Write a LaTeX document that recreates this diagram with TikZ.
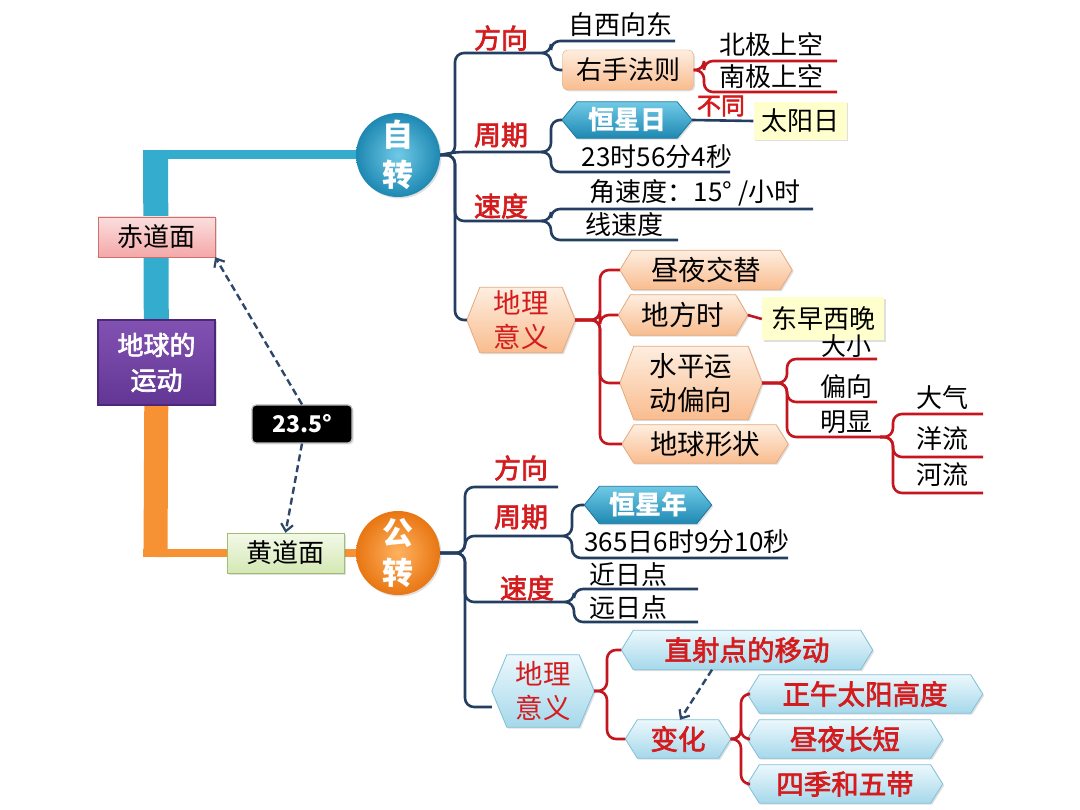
\documentclass[tikz,border=0pt]{standalone}
\usepackage{fontspec}
\newfontfamily\cjk{Noto Sans CJK SC}
\newfontfamily\cjkm[FakeBold=2.5]{Noto Sans CJK SC}
\usetikzlibrary{arrows.meta,shadows,calc}
\pgfdeclarelayer{bg}
\pgfsetlayers{bg,main}
\definecolor{navy}{RGB}{36,62,98}
\definecolor{myred}{RGB}{196,22,30}
\definecolor{txtred}{RGB}{212,28,30}
\definecolor{cyanbar}{RGB}{52,172,206}
\definecolor{orgbar}{RGB}{247,146,52}
\definecolor{peachT}{RGB}{254,238,224}
\definecolor{peachB}{RGB}{249,188,142}
\definecolor{peachD}{RGB}{228,170,126}
\definecolor{ltblT}{RGB}{236,248,252}
\definecolor{ltblB}{RGB}{165,216,235}
\definecolor{ltblD}{RGB}{128,192,215}
\definecolor{blT}{RGB}{112,202,230}
\definecolor{blB}{RGB}{30,136,178}
\definecolor{blD}{RGB}{30,118,158}
\definecolor{yel}{RGB}{255,255,206}
\definecolor{pinkT}{RGB}{251,222,222}
\definecolor{pinkB}{RGB}{244,168,168}
\definecolor{pinkD}{RGB}{206,112,112}
\definecolor{grnT}{RGB}{243,249,232}
\definecolor{grnB}{RGB}{212,232,180}
\definecolor{grnD}{RGB}{160,190,112}
\definecolor{purpT}{RGB}{130,82,178}
\definecolor{purpB}{RGB}{98,54,148}
\definecolor{purpD}{RGB}{78,40,120}
\definecolor{dsh}{RGB}{48,70,104}
\newcommand\brch[4]{\draw[#1] (#2) -- (#2 -| #3) -- (#3 |- #4) -- (#4);}
\newcommand\hexbg[3]{\begin{pgfonlayer}{bg}\path[#3] (#1.west) -- ([xshift=#2]#1.north west) -- ([xshift=-#2]#1.north east) -- (#1.east) -- ([xshift=-#2]#1.south east) -- ([xshift=#2]#1.south west) -- cycle;\end{pgfonlayer}}
\tikzset{
  tx/.style={font=\cjk\fontsize{26}{30}\selectfont, inner sep=0pt, text=black},
  rl/.style={font=\cjkm\fontsize{27}{30}\selectfont, inner sep=0pt, text=txtred},
  hx/.style={inner sep=0pt, font=\cjk\fontsize{27.5}{34}\selectfont, align=center},
  hxr/.style={hx, text=txtred, font=\cjkm\fontsize{27.5}{30}\selectfont},
  navyln/.style={draw=navy, line width=2.6pt, rounded corners=9pt},
  redln/.style={draw=myred, line width=2.6pt, rounded corners=9pt},
  shd/.style={drop shadow={shadow xshift=1.5pt, shadow yshift=-1.5pt, opacity=0.25}},
  peachhex/.style={top color=peachT, bottom color=peachB, draw=peachD, line width=0.8pt, shd},
  ltblhex/.style={top color=ltblT, bottom color=ltblB, draw=ltblD, line width=0.8pt, shd},
  blhex/.style={top color=blT, bottom color=blB, draw=blD, line width=0.8pt, shd},
  ball/.style={circle, minimum size=84pt, inner sep=0pt, align=center, text=white,
    font=\cjk\bfseries\fontsize{31}{40}\selectfont, shd},
  ybox/.style={fill=yel, inner sep=0pt, shd, font=\cjk\fontsize{26}{30}\selectfont},
  dasharrow/.style={draw=dsh, line width=2.4pt, dash pattern=on 7pt off 4pt,
    -{Straight Barb[length=7pt,width=12pt,line width=2.2pt]}},
}
\begin{document}
\begin{tikzpicture}[x=1pt,y=-1pt]
\useasboundingbox (0,0) rectangle (1080,810);
\begin{pgfonlayer}{bg}\fill[white] (0,0) rectangle (1080,810);\end{pgfonlayer}

% ---------- left part ----------
\node[draw=pinkD, top color=pinkT, bottom color=pinkB, minimum width=117pt, minimum height=40pt,
  inner sep=0pt, font=\cjk\fontsize{26}{30}\selectfont, shd] (chi) at (156.5,237) {赤道面};
\node[draw=purpD, line width=1.2pt, top color=purpT, bottom color=purpB, minimum width=117pt,
  minimum height=85pt, inner sep=0pt, align=center, text=white,
  font=\cjkm\fontsize{26}{35}\selectfont, shd] (earth) at (156.5,362.5) {地球的\\运动};
\node[fill=black, draw=black!25, line width=1.2pt, rounded corners=4pt, minimum width=100pt,
  minimum height=38pt, inner sep=0pt, text=white, font=\cjk\bfseries\fontsize{23}{26}\selectfont, shd]
  (deg) at (302,424) {23.5°};
\node[draw=grnD, top color=grnT, bottom color=grnB, minimum width=117pt, minimum height=40pt,
  inner sep=0pt, font=\cjk\fontsize{26}{30}\selectfont, shd] (huang) at (285.5,553) {黄道面};
\node[ball, inner color=blT, outer color=blB] (zi) at (398,155) {自\\转};
\node[ball, inner color={rgb,255:red,255;green,178;blue,96}, outer color={rgb,255:red,232;green,118;blue,18}]
  (gong) at (398,553) {公\\转};

\coordinate (cTop) at (155.5,150.5);
\coordinate (cL) at (143,155);
\coordinate (oBot) at (155.5,557);
\coordinate (oL) at (143,553);
\begin{pgfonlayer}{bg}
\draw[line width=25pt, cyanbar] (earth.center) -- (cTop);
\draw[line width=9pt, cyanbar] (cL) -- (zi.center);
\draw[line width=24pt, orgbar] (earth.center) -- (oBot);
\draw[line width=8pt, orgbar] (oL) -- (gong.center);
\end{pgfonlayer}

\draw[dasharrow] (deg.north) -- (chi.south east);
\draw[dasharrow] (deg.south) -- (huang.north);

% ---------- rotation (自转) ----------
\coordinate (zk) at (455,0);
\coordinate (k1) at (551,0);
\coordinate (k3) at (704,0);
\coordinate (k4) at (600,0);
\coordinate (k5) at (787,0);
\coordinate (k6) at (893,0);

\node[rl] (zfx) at (501,38) {方向};
\coordinate (zfxR) at (542,53);
\brch{navyln}{zi.east}{zk}{zfxR}
\node[tx] (zxd) at (620,25) {自西向东};
\coordinate (zxdR) at (675,41);
\node[draw=peachD, top color=peachT, bottom color=peachB, rounded corners=5pt, minimum width=131pt,
  minimum height=40pt, inner sep=0pt, font=\cjk\fontsize{26}{30}\selectfont, shd] (zyf) at (628,70) {右手法则};
\brch{navyln}{zfxR}{k1}{zxdR}
\brch{navyln}{zfxR}{k1}{zyf.west}
\node[tx] (zbj) at (771,45) {北极上空};
\coordinate (zbjR) at (837,61);
\node[tx] (znj) at (771,77) {南极上空};
\coordinate (znjR) at (837,92);
\brch{redln}{zyf.east}{k3}{zbjR}
\brch{redln}{zyf.east}{k3}{znjR}

\node[rl] (zzq) at (501,135) {周期};
\coordinate (zzqR) at (543,152);
\draw[navyln] (zi.east) -- (zk |- zzqR) -- (zzqR);
\node[hx, text=white, font=\cjk\bfseries\fontsize{26}{30}\selectfont, minimum width=130pt, minimum height=36pt] (zhr) at (627,120) {恒星日};
\hexbg{zhr}{15pt}{blhex}
\brch{navyln}{zzqR}{k1}{zhr.west}
\node[tx] (z23) at (657,157) {23时56分4秒};
\coordinate (z23R) at (730,172);
\brch{navyln}{zzqR}{k1}{z23R}
\node[ybox, minimum width=93pt, minimum height=38pt] (zty) at (800,121) {太阳日};
\draw[navy, line width=2.6pt] (zhr.east) -- (zty.west);
\node[rl, font=\cjkm\fontsize{24}{28}\selectfont] (zbt) at (721,106) {不同};

\node[rl] (zsd) at (501,206) {速度};
\coordinate (zsdR) at (543,221);
\brch{navyln}{zi.east}{zk}{zsdR}
\node[tx] (zjs) at (695,193) {角速度：15° /小时};
\coordinate (zjsR) at (813,209);
\node[tx] (zxs) at (624,225) {线速度};
\coordinate (zxsR) at (678,240);
\brch{navyln}{zsdR}{k1}{zjsR}
\brch{navyln}{zsdR}{k1}{zxsR}

\node[hxr, font=\cjk\fontsize{27.5}{34}\selectfont, minimum width=108pt, minimum height=65pt] (zdl) at (521,320) {地理\\意义};
\hexbg{zdl}{13pt}{peachhex}
\brch{navyln}{zi.east}{zk}{zdl.west}

\node[hx, minimum width=172pt, minimum height=39pt] (zzy) at (706,270) {昼夜交替};
\hexbg{zzy}{12pt}{peachhex}
\node[hx, minimum width=129pt, minimum height=40pt] (zdf) at (683,315) {地方时};
\hexbg{zdf}{12pt}{peachhex}
\node[ybox, minimum width=122pt, minimum height=43pt] (zdw) at (823,319) {东早西晚};
\draw[myred, line width=2.6pt] (zdf.east) -- (zdw.west);
\node[hx, minimum width=142pt, minimum height=73pt] (zsp) at (691,383) {水平运\\动偏向};
\hexbg{zsp}{14pt}{peachhex}
\node[hx, minimum width=166pt, minimum height=38pt] (zdq) at (705,444) {地球形状};
\hexbg{zdq}{12pt}{peachhex}
\brch{redln}{zdl.east}{k4}{zzy.west}
\brch{redln}{zdl.east}{k4}{zdf.west}
\brch{redln}{zdl.east}{k4}{zsp.west}
\brch{redln}{zdl.east}{k4}{zdq.west}

\node[tx, font=\cjk\fontsize{25}{28}\selectfont] (zdx) at (846,346) {大小};
\coordinate (zdxR) at (877,359);
\node[tx] (zpx) at (846,387) {偏向};
\coordinate (zpxR) at (877,402);
\node[tx] (zmx) at (846,422) {明显};
\coordinate (zmxR) at (880,437);
\brch{redln}{zsp.east}{k5}{zdxR}
\brch{redln}{zsp.east}{k5}{zpxR}
\brch{redln}{zsp.east}{k5}{zmxR}
\node[tx] (zdqi) at (942,398) {大气};
\coordinate (zdqiR) at (983,414);
\node[tx] (zyl) at (942,439) {洋流};
\coordinate (zylR) at (983,457);
\node[tx] (zhl) at (942,475) {河流};
\coordinate (zhlR) at (983,493);
\brch{redln}{zmxR}{k6}{zdqiR}
\brch{redln}{zmxR}{k6}{zylR}
\brch{redln}{zmxR}{k6}{zhlR}

% ---------- revolution (公转) ----------
\coordinate (gk) at (465,0);
\coordinate (gk1) at (572,0);
\coordinate (gk2) at (574,0);
\coordinate (gk3) at (607,0);
\coordinate (gk4) at (741,0);

\node[rl] (gfx) at (521,468) {方向};
\coordinate (gfxR) at (558,487);
\brch{navyln}{gong.east}{gk}{gfxR}
\node[rl] (gzq) at (521,517) {周期};
\coordinate (gzqR) at (563,536);
\brch{navyln}{gong.east}{gk}{gzqR}
\node[hx, text=white, font=\cjk\bfseries\fontsize{26}{30}\selectfont, minimum width=127pt, minimum height=37pt] (ghn) at (648,505) {恒星年};
\hexbg{ghn}{15pt}{blhex}
\node[tx] (g365) at (687,542) {365日6时9分10秒};
\coordinate (g365R) at (788,558);
\brch{navyln}{gzqR}{gk1}{ghn.west}
\brch{navyln}{gzqR}{gk1}{g365R}

\node[rl] (gsd) at (527,588) {速度};
\coordinate (gsdR) at (565,602);
\brch{navyln}{gong.east}{gk}{gsdR}
\node[tx] (gjr) at (628,575) {近日点};
\coordinate (gjrR) at (698,589);
\node[tx] (gyr) at (628,608) {远日点};
\coordinate (gyrR) at (698,622);
\brch{navyln}{gsdR}{gk2}{gjrR}
\brch{navyln}{gsdR}{gk2}{gyrR}

\node[hxr, font=\cjk\fontsize{27.5}{34}\selectfont, minimum width=102pt, minimum height=72pt] (gdl) at (543,691) {地理\\意义};
\hexbg{gdl}{15pt}{ltblhex}
\coordinate (gdlP) at ([yshift=-16pt]gdl.west);
\brch{navyln}{gong.east}{gk}{gdlP}

\node[hxr, minimum width=251pt, minimum height=39pt] (gzs) at (747,650) {直射点的移动};
\hexbg{gzs}{12pt}{ltblhex}
\node[hxr, minimum width=105pt, minimum height=38pt] (gbh) at (678,739) {变化};
\hexbg{gbh}{12pt}{ltblhex}
\brch{redln}{gdl.east}{gk3}{gzs.west}
\brch{redln}{gdl.east}{gk3}{gbh.west}
\draw[dasharrow] ([xshift=-35pt]gzs.south) -- ([xshift=2pt]gbh.north);

\node[hxr, minimum width=235pt, minimum height=38pt] (gzw) at (865,694) {正午太阳高度};
\hexbg{gzw}{12pt}{ltblhex}
\node[hxr, minimum width=195pt, minimum height=38pt] (gzc) at (845,739) {昼夜长短};
\hexbg{gzc}{12pt}{ltblhex}
\node[hxr, minimum width=195pt, minimum height=38pt] (gsj) at (845,784) {四季和五带};
\hexbg{gsj}{12pt}{ltblhex}
\brch{redln}{gbh.east}{gk4}{gzw.west}
\brch{redln}{gbh.east}{gk4}{gzc.west}
\brch{redln}{gbh.east}{gk4}{gsj.west}
\end{tikzpicture}
\end{document}
